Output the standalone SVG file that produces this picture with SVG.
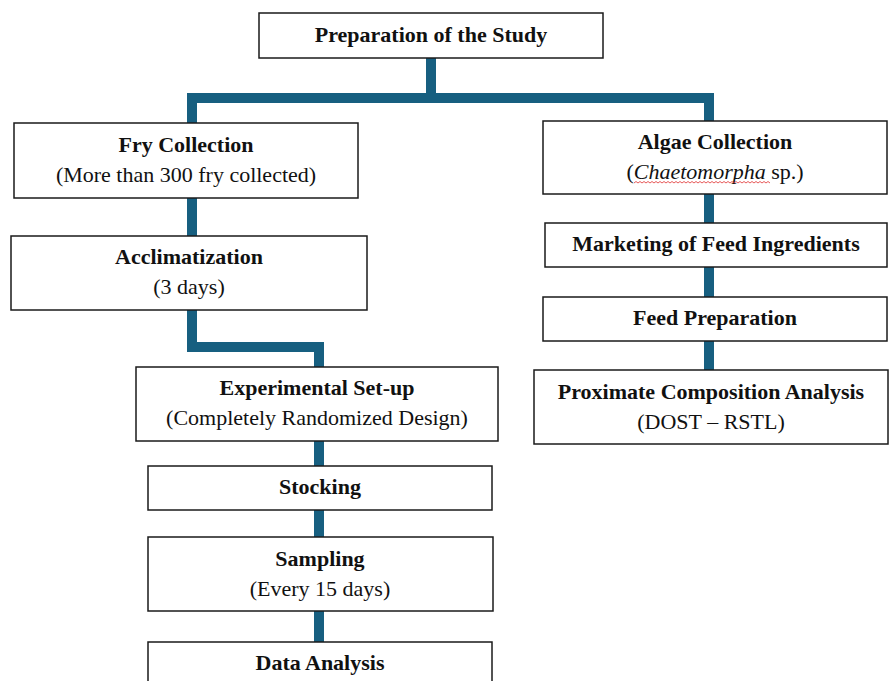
<svg xmlns="http://www.w3.org/2000/svg" width="889" height="681" viewBox="0 0 889 681">
<style>
.box{fill:#fff;stroke:#1a1a1a;stroke-width:1.5}
.t{font-family:"Liberation Serif","Times New Roman",serif;font-size:22px;text-anchor:middle;fill:#111}
.b{font-weight:bold}
.c{fill:none;stroke:#175f80;stroke-width:10;stroke-linejoin:miter;stroke-linecap:butt}
</style>
<rect width="889" height="681" fill="#fff"/>
<g id="connectors">
<path class="c" d="M431 58 V98"/>
<path class="c" d="M192 123 V98 H709 V121"/>
<path class="c" d="M192 198 V236"/>
<path class="c" d="M192 310 V347 H319 V367"/>
<path class="c" d="M319 441 V466"/>
<path class="c" d="M319 510 V537"/>
<path class="c" d="M319 611 V642"/>
<path class="c" d="M709 194 V223"/>
<path class="c" d="M709 267 V297"/>
<path class="c" d="M709 341 V370"/>
</g>
<g id="prep">
<rect class="box" x="259" y="13" width="344" height="45"/>
<text class="t b" x="431" y="42">Preparation of the Study</text>
</g>
<g id="fry">
<rect class="box" x="14" y="123" width="344" height="75"/>
<text class="t b" x="186" y="152">Fry Collection</text>
<text class="t" x="186" y="182">(More than 300 fry collected)</text>
</g>
<g id="acclim">
<rect class="box" x="11" y="236" width="356" height="74"/>
<text class="t b" x="189" y="264">Acclimatization</text>
<text class="t" x="189" y="294">(3 days)</text>
</g>
<g id="exp">
<rect class="box" x="136" y="367" width="362" height="74"/>
<text class="t b" x="317" y="395">Experimental Set-up</text>
<text class="t" x="317" y="425">(Completely Randomized Design)</text>
</g>
<g id="stocking">
<rect class="box" x="148" y="466" width="344" height="44"/>
<text class="t b" x="320" y="494">Stocking</text>
</g>
<g id="sampling">
<rect class="box" x="148" y="537" width="345" height="74"/>
<text class="t b" x="320" y="566">Sampling</text>
<text class="t" x="320" y="596">(Every 15 days)</text>
</g>
<g id="data">
<rect class="box" x="148" y="642" width="344" height="50"/>
<text class="t b" x="320" y="670">Data Analysis</text>
</g>
<g id="algae">
<rect class="box" x="543" y="121" width="344" height="73"/>
<text class="t b" x="715" y="149">Algae Collection</text>
<text class="t" x="715" y="179">(<tspan font-style="italic">Chaetomorpha</tspan> sp.)</text>
<path d="M634 183 l2 -1.5 l2 1.5 l2 -1.5 l2 1.5 l2 -1.5 l2 1.5 l2 -1.5 l2 1.5 l2 -1.5 l2 1.5 l2 -1.5 l2 1.5 l2 -1.5 l2 1.5 l2 -1.5 l2 1.5 l2 -1.5 l2 1.5 l2 -1.5 l2 1.5 l2 -1.5 l2 1.5 l2 -1.5 l2 1.5 l2 -1.5 l2 1.5 l2 -1.5 l2 1.5 l2 -1.5 l2 1.5 l2 -1.5 l2 1.5 l2 -1.5 l2 1.5 l2 -1.5 l2 1.5 l2 -1.5 l2 1.5 l2 -1.5 l2 1.5 l2 -1.5 l2 1.5 l2 -1.5 l2 1.5 l2 -1.5 l2 1.5 l2 -1.5 l2 1.5 l2 -1.5 l2 1.5 l2 -1.5 l2 1.5 l2 -1.5 l2 1.5 l2 -1.5 l2 1.5 l2 -1.5 l2 1.5 l2 -1.5 l2 1.5 l2 -1.5 l2 1.5 l2 -1.5 l2 1.5 l2 -1.5 l2 1.5 l2 -1.5 l2 1.5" fill="none" stroke="#e03030" stroke-width="0.8"/>
</g>
<g id="marketing">
<rect class="box" x="545" y="223" width="342" height="44"/>
<text class="t b" x="716" y="251">Marketing of Feed Ingredients</text>
</g>
<g id="feed">
<rect class="box" x="543" y="297" width="344" height="44"/>
<text class="t b" x="715" y="325">Feed Preparation</text>
</g>
<g id="proximate">
<rect class="box" x="534" y="370" width="354" height="74"/>
<text class="t b" x="711" y="399">Proximate Composition Analysis</text>
<text class="t" x="711" y="429">(DOST – RSTL)</text>
</g>
</svg>
